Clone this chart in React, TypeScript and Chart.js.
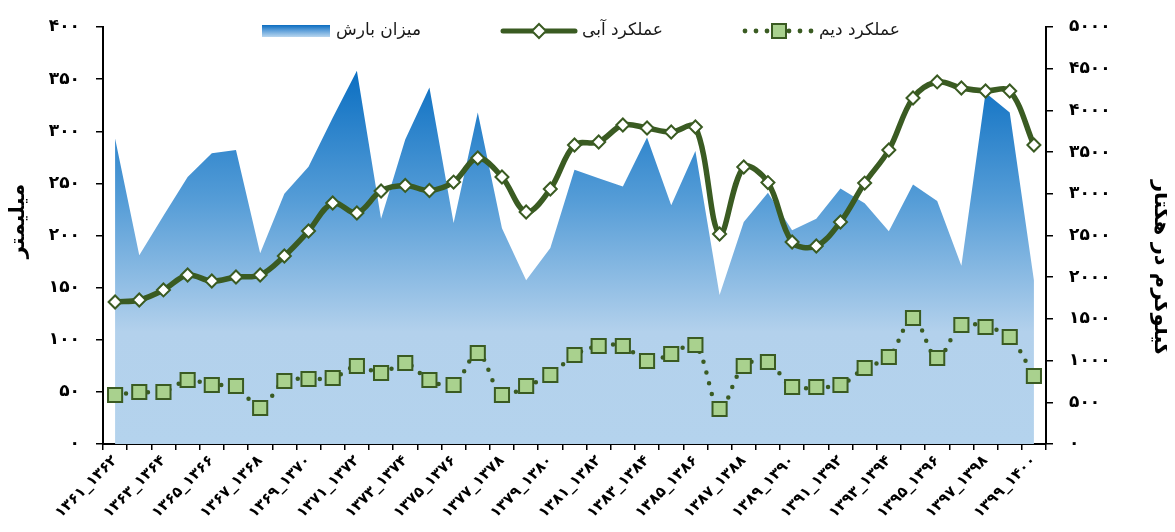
import React, { useEffect, useRef } from "react";
import { Chart, registerables } from "chart.js";

Chart.register(...registerables);

const categories = [
  "۱۳۶۱_۱۳۶۲", "۱۳۶۲_۱۳۶۳", "۱۳۶۳_۱۳۶۴", "۱۳۶۴_۱۳۶۵", "۱۳۶۵_۱۳۶۶", "۱۳۶۶_۱۳۶۷",
  "۱۳۶۷_۱۳۶۸", "۱۳۶۸_۱۳۶۹", "۱۳۶۹_۱۳۷۰", "۱۳۷۰_۱۳۷۱", "۱۳۷۱_۱۳۷۲", "۱۳۷۲_۱۳۷۳",
  "۱۳۷۳_۱۳۷۴", "۱۳۷۴_۱۳۷۵", "۱۳۷۵_۱۳۷۶", "۱۳۷۶_۱۳۷۷", "۱۳۷۷_۱۳۷۸", "۱۳۷۸_۱۳۷۹",
  "۱۳۷۹_۱۳۸۰", "۱۳۸۰_۱۳۸۱", "۱۳۸۱_۱۳۸۲", "۱۳۸۲_۱۳۸۳", "۱۳۸۳_۱۳۸۴", "۱۳۸۴_۱۳۸۵",
  "۱۳۸۵_۱۳۸۶", "۱۳۸۶_۱۳۸۷", "۱۳۸۷_۱۳۸۸", "۱۳۸۸_۱۳۸۹", "۱۳۸۹_۱۳۹۰", "۱۳۹۰_۱۳۹۱",
  "۱۳۹۱_۱۳۹۲", "۱۳۹۲_۱۳۹۳", "۱۳۹۳_۱۳۹۴", "۱۳۹۴_۱۳۹۵", "۱۳۹۵_۱۳۹۶", "۱۳۹۶_۱۳۹۷",
  "۱۳۹۷_۱۳۹۸", "۱۳۹۸_۱۳۹۹", "۱۳۹۹_۱۴۰۰",
];

// میزان بارش (mm, left axis)
const rainfall = [
  293, 181, 219, 256, 279, 282, 183, 240, 266, 313, 358, 216, 292, 342, 212, 318,
  207, 157, 188, 263, 255, 247, 294, 229, 281, 143, 213, 241, 205, 216, 245, 231,
  204, 249, 233, 171, 337, 318, 157,
];

// عملکرد آبی (kg/ha, right axis)
const irrigatedYield = [
  1703, 1727, 1847, 2026, 1954, 2002, 2026, 2254, 2554, 2890, 2770, 3034, 3100,
  3040, 3141, 3429, 3201, 2782, 3058, 3585, 3621, 3825, 3789, 3741, 3801, 2518,
  3321, 3135, 2422, 2374, 2662, 3129, 3525, 4149, 4341, 4269, 4233, 4233, 3585,
];

// عملکرد دیم (kg/ha, right axis)
const rainfedYield = [
  588, 624, 624, 767, 707, 695, 432, 755, 779, 791, 935, 851, 971, 767, 707, 1091,
  588, 695, 827, 1067, 1175, 1175, 995, 1079, 1187, 420, 935, 983, 683, 683, 707,
  911, 1043, 1511, 1031, 1427, 1403, 1283, 815,
];

const seriesNames = ["میزان بارش", "عملکرد آبی", "عملکرد دیم"];
const leftAxisTitle = "میلیمتر";
const rightAxisTitle = "کیلوگرم در هکتار";

const DARK_GREEN = "#3a5b22";
const LIGHT_GREEN = "#a9d18e";
const FONT = "'DejaVu Sans', sans-serif";

const toFa = (s: string | number) =>
  String(s).replace(/\d/g, (d) => "۰۱۲۳۴۵۶۷۸۹"[Number(d)]);

const decorPlugin = {
  id: "decor",
  afterDraw(chart: any) {
    const ctx = chart.ctx as CanvasRenderingContext2D;
    ctx.save();
    const ly = 23;
    // legend 1: rainfall gradient box
    const g = ctx.createLinearGradient(0, 17, 0, 29);
    g.addColorStop(0, "#0a6cc0");
    g.addColorStop(0.45, "#5d9fd9");
    g.addColorStop(1, "#b8d6ef");
    ctx.fillStyle = g;
    ctx.fillRect(254, 17, 68, 12);
    ctx.font = `17px ${FONT}`;
    ctx.fillStyle = "#1a1a1a";
    ctx.textBaseline = "middle";
    ctx.textAlign = "left";
    ctx.fillText(seriesNames[0], 328, ly);

    // legend 2: irrigated line + diamond
    ctx.strokeStyle = DARK_GREEN;
    ctx.lineWidth = 5;
    ctx.lineCap = "round";
    ctx.beginPath();
    ctx.moveTo(495, ly);
    ctx.lineTo(567, ly);
    ctx.stroke();
    ctx.beginPath();
    ctx.moveTo(531, ly - 7);
    ctx.lineTo(538, ly);
    ctx.lineTo(531, ly + 7);
    ctx.lineTo(524, ly);
    ctx.closePath();
    ctx.fillStyle = "#ffffff";
    ctx.fill();
    ctx.lineWidth = 2;
    ctx.stroke();
    ctx.fillStyle = "#1a1a1a";
    ctx.fillText(seriesNames[1], 574, ly);

    // legend 3: rainfed dotted + square
    ctx.fillStyle = DARK_GREEN;
    [737, 748, 759, 781, 792, 803].forEach((x) => {
      ctx.beginPath();
      ctx.arc(x, ly, 2.4, 0, Math.PI * 2);
      ctx.fill();
    });
    ctx.fillStyle = LIGHT_GREEN;
    ctx.fillRect(764, ly - 7, 14, 14);
    ctx.strokeStyle = DARK_GREEN;
    ctx.lineWidth = 2;
    ctx.strokeRect(764, ly - 7, 14, 14);
    ctx.fillStyle = "#1a1a1a";
    ctx.fillText(seriesNames[2], 811, ly);

    // axis titles
    ctx.font = `bold 21px ${FONT}`;
    ctx.fillStyle = "#000";
    ctx.textAlign = "center";
    ctx.save();
    ctx.translate(11, 213);
    ctx.rotate(-Math.PI / 2);
    ctx.fillText(leftAxisTitle, 0, 0);
    ctx.restore();
    ctx.save();
    ctx.translate(1152, 260);
    ctx.rotate(Math.PI / 2);
    ctx.fillText(rightAxisTitle, 0, 0);
    ctx.restore();
    ctx.restore();
  },
};

const noVPad = (s: any, w: number) => {
  s.width = w;
  s.paddingTop = 0;
  s.paddingBottom = 0;
};

export default function App() {
  const canvasRef = useRef<HTMLCanvasElement | null>(null);

  useEffect(() => {
    if (!canvasRef.current) return;
    const chart = new Chart(canvasRef.current, {
      type: "line",
      data: {
        labels: categories,
        datasets: [
          {
            label: seriesNames[1],
            data: irrigatedYield,
            yAxisID: "y1",
            borderColor: DARK_GREEN,
            borderWidth: 5.5,
            tension: 0.35,
            pointStyle: "rectRot",
            pointRadius: 6.5,
            pointBackgroundColor: "#ffffff",
            pointBorderColor: DARK_GREEN,
            pointBorderWidth: 2,
            fill: false,
          },
          {
            label: seriesNames[2],
            data: rainfedYield,
            yAxisID: "y1",
            borderColor: DARK_GREEN,
            borderWidth: 4.5,
            borderDash: [0, 11],
            borderCapStyle: "round",
            tension: 0.35,
            pointStyle: "rect",
            pointRadius: 10,
            pointBackgroundColor: LIGHT_GREEN,
            pointBorderColor: DARK_GREEN,
            pointBorderWidth: 2,
            fill: false,
          },
          {
            label: seriesNames[0],
            data: rainfall,
            yAxisID: "y",
            borderWidth: 0,
            pointRadius: 0,
            tension: 0,
            fill: "origin",
            backgroundColor: (c: any) => {
              const ch = c.chart;
              if (!ch.chartArea) return "#7fb2e2";
              const ys = ch.scales.y;
              const top = ys.getPixelForValue(Math.max(...rainfall));
              const bottom = ys.getPixelForValue(0);
              const gr = ch.ctx.createLinearGradient(0, top, 0, bottom);
              gr.addColorStop(0, "#0b6fc2");
              gr.addColorStop(0.35, "#569dd7");
              gr.addColorStop(0.7, "#b3d1ec");
              gr.addColorStop(1, "#b4d3ed");
              return gr;
            },
          },
        ],
      },
      options: {
        responsive: true,
        maintainAspectRatio: false,
        animation: false,
        layout: { autoPadding: false, padding: { top: 19, left: 8, right: 0, bottom: 0 } },
        plugins: {
          legend: { display: false },
          tooltip: { enabled: false },
        },
        scales: {
          x: {
            type: "category",
            offset: true,
            afterFit: (s: any) => {
              s.height = 80;
            },
            grid: {
              offset: true,
              drawOnChartArea: false,
              drawTicks: true,
              tickLength: 6,
              color: "#000",
              lineWidth: 1.5,
            },
            border: { display: true, color: "#000", width: 2 },
            ticks: {
              autoSkip: false,
              maxRotation: 45,
              minRotation: 45,
              padding: 2,
              color: "#000",
              font: { family: FONT, size: 15, weight: "bold" },
              callback: (_v: any, i: number) => (i % 2 === 0 ? categories[i] : ""),
            },
          },
          y: {
            position: "left",
            min: 0,
            max: 400,
            afterFit: (s: any) => noVPad(s, 87),
            grid: {
              drawOnChartArea: false,
              drawTicks: true,
              tickLength: 7,
              color: "#000",
              lineWidth: 1.5,
            },
            border: { display: true, color: "#000", width: 2 },
            ticks: {
              stepSize: 50,
              padding: 16,
              color: "#000",
              font: { family: FONT, size: 17, weight: "bold" },
              callback: (v: any) => toFa(v),
            },
          },
          y1: {
            position: "right",
            min: 0,
            max: 5000,
            afterFit: (s: any) => noVPad(s, 129),
            grid: {
              drawOnChartArea: false,
              drawTicks: true,
              tickLength: 7,
              color: "#000",
              lineWidth: 1.5,
            },
            border: { display: true, color: "#000", width: 2 },
            ticks: {
              stepSize: 500,
              padding: 16,
              color: "#000",
              font: { family: FONT, size: 17, weight: "bold" },
              callback: (v: any) => toFa(v),
            },
          },
        },
      },
      plugins: [decorPlugin],
    } as any);
    return () => chart.destroy();
  }, []);

  return (
    <div style={{ position: "relative", width: "1167px", height: "516px" }}>
      <canvas ref={canvasRef} />
    </div>
  );
}
